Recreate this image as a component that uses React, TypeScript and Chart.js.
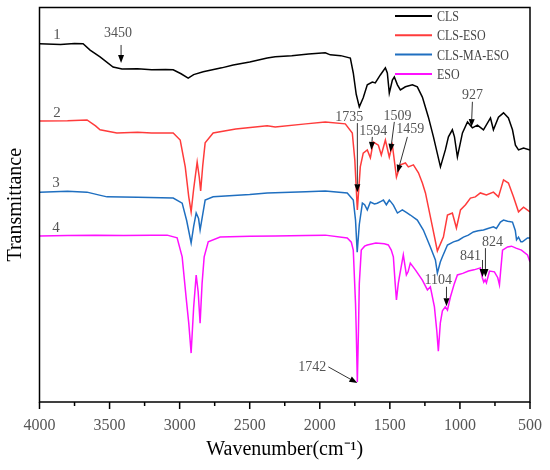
import React, { useEffect, useRef } from 'react';
import { Chart, registerables } from 'chart.js';

Chart.register(...registerables);

// Wavenumber (cm-1), transmittance (a.u., offset curves)
const clsPoints: [number, number][] = [
  [4000, 90.8], [3850, 90.6], [3750, 90.9], [3689, 90.8], [3639, 89.2], [3568, 87.5], [3475, 84.9], [3411, 84.4],
  [3300, 84.5], [3200, 84.2], [3100, 84.3], [3046, 84.2], [2990, 83.2], [2939, 82.1], [2900, 83.0], [2832, 83.7],
  [2700, 84.7], [2618, 85.4], [2500, 86.2], [2375, 87.2], [2318, 87.5], [2200, 87.8], [2080, 88.2], [1961, 88.5],
  [1925, 88.0], [1850, 87.8], [1782, 87.2], [1761, 83.4], [1740, 78.0], [1718, 74.8], [1690, 77.1], [1661, 80.4],
  [1625, 81.1], [1604, 80.9], [1568, 82.9], [1532, 84.7], [1518, 83.4], [1504, 78.3], [1482, 81.6], [1468, 82.4],
  [1446, 80.4], [1425, 79.1], [1389, 79.9], [1339, 80.4], [1304, 79.9], [1268, 77.3], [1225, 72.2], [1189, 67.2],
  [1139, 59.6], [1104, 63.9], [1082, 67.2], [1054, 69.0], [1039, 67.2], [1018, 62.1], [982, 68.2], [946, 71.0],
  [911, 69.5], [875, 70.2], [832, 69.0], [782, 72.0], [761, 69.0], [725, 72.2], [689, 73.3], [654, 72.0],
  [625, 69.0], [604, 65.1], [582, 63.9], [546, 64.4], [500, 63.9],
];

const clsEsoPoints: [number, number][] = [
  [4000, 71.2], [3800, 71.3], [3661, 71.5], [3600, 70.0], [3568, 69.0], [3448, 68.2], [3300, 68.4], [3200, 68.2],
  [3046, 68.2], [2996, 66.4], [2960, 59.6], [2935, 52.0], [2918, 48.2], [2900, 54.0], [2875, 60.8], [2860, 57.0],
  [2850, 53.5], [2835, 60.0], [2818, 65.7], [2761, 68.2], [2600, 69.2], [2375, 70.0], [2318, 69.7], [2100, 70.5],
  [1961, 71.0], [1818, 70.5], [1768, 68.2], [1750, 61.3], [1732, 48.7], [1711, 59.6], [1690, 63.1], [1661, 63.9],
  [1639, 61.9], [1618, 65.9], [1582, 65.1], [1561, 62.6], [1532, 66.4], [1504, 62.1], [1482, 65.1], [1453, 57.0],
  [1425, 60.1], [1389, 60.6], [1368, 59.6], [1332, 60.1], [1296, 58.1], [1268, 55.5], [1246, 53.0], [1196, 44.4],
  [1161, 38.3], [1118, 41.8], [1089, 47.4], [1054, 47.9], [1025, 44.1], [996, 48.7], [960, 50.0], [925, 51.7],
  [890, 52.0], [854, 53.0], [811, 52.5], [761, 53.2], [725, 52.0], [689, 56.3], [654, 55.5], [618, 52.0],
  [582, 48.2], [546, 49.4], [500, 48.2],
];

const clsMaEsoPoints: [number, number][] = [
  [4000, 53.2], [3800, 53.4], [3661, 53.2], [3580, 52.5], [3518, 52.0], [3300, 51.9], [3046, 51.7], [2982, 50.4],
  [2950, 46.0], [2918, 40.3], [2900, 44.5], [2882, 47.9], [2865, 46.5], [2854, 43.6], [2838, 47.0], [2818, 51.2],
  [2761, 52.0], [2500, 52.6], [2375, 53.0], [2100, 53.3], [1961, 53.5], [1804, 53.0], [1761, 51.2], [1745, 46.1],
  [1733, 38.0], [1718, 45.0], [1696, 50.4], [1680, 50.0], [1661, 48.7], [1639, 50.7], [1610, 50.2], [1590, 50.4],
  [1560, 50.9], [1546, 51.2], [1525, 50.0], [1504, 51.2], [1490, 50.6], [1475, 49.9], [1446, 47.9], [1411, 48.7],
  [1380, 48.0], [1354, 47.4], [1304, 46.1], [1261, 43.6], [1211, 39.3], [1175, 36.0], [1161, 32.7], [1140, 35.5],
  [1125, 36.8], [1089, 39.8], [1046, 40.6], [1010, 41.0], [975, 41.8], [940, 42.3], [904, 43.1], [870, 43.4],
  [832, 43.6], [800, 44.0], [761, 44.4], [740, 44.0], [711, 45.6], [689, 46.1], [660, 45.8], [625, 45.6],
  [605, 43.5], [596, 41.1], [582, 41.8], [565, 40.6], [554, 40.6], [518, 41.6], [500, 41.6],
];

const esoPoints: [number, number][] = [
  [4000, 42.1], [3800, 42.2], [3600, 42.3], [3400, 42.2], [3200, 42.3], [3089, 42.3], [3018, 41.6], [2982, 36.8],
  [2954, 26.6], [2935, 20.0], [2918, 12.4], [2900, 24.0], [2882, 32.2], [2868, 28.0], [2854, 20.0], [2840, 30.0],
  [2825, 36.8], [2796, 40.6], [2711, 41.8], [2500, 42.0], [2318, 42.1], [2100, 42.2], [1961, 42.3], [1804, 41.6],
  [1775, 40.5], [1761, 38.5], [1745, 25.0], [1740, 18.3], [1732, 5.1], [1724, 18.3], [1718, 30.0], [1704, 38.5],
  [1680, 39.5], [1661, 39.8], [1600, 40.3], [1540, 40.1], [1511, 39.8], [1490, 38.5], [1475, 36.8], [1462, 30.0],
  [1453, 25.9], [1440, 30.0], [1432, 31.7], [1404, 37.3], [1382, 32.2], [1370, 33.0], [1354, 35.2], [1318, 33.5],
  [1268, 30.9], [1232, 28.4], [1211, 29.2], [1182, 24.1], [1165, 18.0], [1154, 12.9], [1140, 20.0], [1125, 23.1],
  [1104, 24.1], [1089, 23.3], [1068, 26.6], [1040, 30.0], [1018, 32.2], [980, 32.6], [939, 33.2], [900, 33.5],
  [854, 34.0], [840, 31.5], [830, 30.4], [820, 31.0], [811, 30.2], [789, 33.2], [754, 33.0], [730, 31.5],
  [718, 29.7], [710, 33.0], [696, 38.5], [660, 39.3], [632, 39.5], [600, 39.0], [561, 38.5], [518, 37.3], [500, 35.5],
];

const seriesNames = ['CLS', 'CLS-ESO', 'CLS-MA-ESO', 'ESO'];
const seriesColors = ['#000000', '#ff3b3b', '#1f6fc0', '#ff10ff'];
const seriesPoints = [clsPoints, clsEsoPoints, clsMaEsoPoints, esoPoints];

const xTicks = [500, 1000, 1500, 2000, 2500, 3000, 3500, 4000];
const xMinorTicks = [750, 1250, 1750, 2250, 2750, 3250, 3750];

// curve numbers: [text, wavenumber, transmittance]
const curveNumbers: [string, number, number][] = [
  ['1', 3875, 93.0], ['2', 3875, 73.3], ['3', 3882, 55.5], ['4', 3882, 44.1],
];

// peak labels: text, text position, arrow start, arrow end (wavenumber, transmittance)
const peakLabels: { text: string; at: [number, number]; from: [number, number]; to: [number, number] }[] = [
  { text: '3450', at: [3439, 93.5], from: [3418, 90.5], to: [3418, 85.9] },
  { text: '1735', at: [1789, 72.2], from: [1732, 70.7], to: [1732, 53.2] },
  { text: '1594', at: [1618, 68.7], from: [1625, 67.2], to: [1632, 63.9] },
  { text: '1509', at: [1446, 72.5], from: [1468, 71.0], to: [1496, 63.4] },
  { text: '1459', at: [1354, 69.0], from: [1375, 67.2], to: [1446, 58.1] },
  { text: '927', at: [911, 77.8], from: [911, 76.1], to: [918, 69.7] },
  { text: '1104', at: [1154, 30.9], from: [1096, 29.2], to: [1096, 24.3] },
  { text: '824', at: [768, 40.6], from: [818, 39.0], to: [818, 31.7] },
  { text: '841', at: [925, 36.8], from: [839, 36.0], to: [839, 31.7] },
  { text: '1742', at: [2054, 8.9], from: [1939, 8.9], to: [1732, 4.8] },
];

const SERIF = '"Liberation Serif", "Times New Roman", serif';

const decorPlugin = {
  id: 'decor',
  afterDatasetsDraw(chart: any) {
    const { ctx, chartArea: a, scales } = chart;
    const xs = scales.x;
    const ys = scales.y;
    ctx.save();
    // frame
    ctx.strokeStyle = '#000';
    ctx.lineWidth = 1.5;
    ctx.strokeRect(a.left, a.top, a.right - a.left, a.bottom - a.top);
    // ticks (outward)
    ctx.beginPath();
    xTicks.forEach((v) => {
      const px = xs.getPixelForValue(v);
      ctx.moveTo(px, a.bottom);
      ctx.lineTo(px, a.bottom + 7);
    });
    xMinorTicks.forEach((v) => {
      const px = xs.getPixelForValue(v);
      ctx.moveTo(px, a.bottom);
      ctx.lineTo(px, a.bottom + 4);
    });
    ctx.stroke();

    // curve numbers
    ctx.fillStyle = '#555';
    ctx.font = `15px ${SERIF}`;
    ctx.textAlign = 'center';
    ctx.textBaseline = 'middle';
    curveNumbers.forEach(([t, w, v]) => {
      ctx.fillText(t, xs.getPixelForValue(w), ys.getPixelForValue(v));
    });

    // peak labels with arrows
    ctx.font = `14px ${SERIF}`;
    peakLabels.forEach((p) => {
      ctx.fillStyle = '#555';
      ctx.fillText(p.text, xs.getPixelForValue(p.at[0]), ys.getPixelForValue(p.at[1]));
      const x1 = xs.getPixelForValue(p.from[0]);
      const y1 = ys.getPixelForValue(p.from[1]);
      const x2 = xs.getPixelForValue(p.to[0]);
      const y2 = ys.getPixelForValue(p.to[1]);
      const ang = Math.atan2(y2 - y1, x2 - x1);
      const hl = 8;
      const hw = 3;
      ctx.strokeStyle = '#333';
      ctx.lineWidth = 1;
      ctx.beginPath();
      ctx.moveTo(x1, y1);
      ctx.lineTo(x2 - Math.cos(ang) * hl, y2 - Math.sin(ang) * hl);
      ctx.stroke();
      ctx.fillStyle = '#000';
      ctx.beginPath();
      ctx.moveTo(x2, y2);
      ctx.lineTo(x2 - Math.cos(ang) * hl - Math.sin(ang) * hw, y2 - Math.sin(ang) * hl + Math.cos(ang) * hw);
      ctx.lineTo(x2 - Math.cos(ang) * hl + Math.sin(ang) * hw, y2 - Math.sin(ang) * hl - Math.cos(ang) * hw);
      ctx.closePath();
      ctx.fill();
    });

    // legend (narrow serif, like the original figure)
    ctx.font = `15px ${SERIF}`;
    ctx.textAlign = 'left';
    chart.data.datasets.forEach((ds: any, i: number) => {
      const y = a.top + 8.5 + i * 19.3;
      ctx.strokeStyle = ds.borderColor;
      ctx.lineWidth = 2;
      ctx.beginPath();
      ctx.moveTo(a.right - 135, y);
      ctx.lineTo(a.right - 98, y);
      ctx.stroke();
      ctx.fillStyle = '#444';
      ctx.save();
      ctx.translate(a.right - 93, y + 1);
      ctx.scale(0.8, 1);
      ctx.fillText(ds.label, 0, 0);
      ctx.restore();
    });
    ctx.restore();
  },
};

export default function App() {
  const ref = useRef<HTMLCanvasElement>(null);
  useEffect(() => {
    if (!ref.current) return;
    const chart = new Chart(ref.current, {
      type: 'line',
      data: {
        datasets: seriesPoints.map((pts, i) => ({
          label: seriesNames[i],
          data: pts.map(([x, y]) => ({ x, y })),
          borderColor: seriesColors[i],
          backgroundColor: seriesColors[i],
          borderWidth: 1.5,
          pointRadius: 0,
          tension: 0,
          fill: false,
        })),
      },
      options: {
        animation: false,
        responsive: false,
        events: [],
        layout: { padding: { top: 7.5, right: 20, left: 0, bottom: 0 } },
        plugins: { legend: { display: false }, tooltip: { enabled: false } },
        scales: {
          x: {
            type: 'linear',
            reverse: true,
            min: 500,
            max: 4000,
            afterFit: (s: any) => {
              s.height = 68;
              s.paddingLeft = 0;
              s.paddingRight = 0;
            },
            grid: { display: false, drawTicks: false },
            border: { display: false },
            ticks: {
              stepSize: 500,
              padding: 14,
              autoSkip: false,
              maxRotation: 0,
              color: '#555',
              font: { family: SERIF, size: 16 },
              callback: (v: any) => String(v),
            },
            title: {
              display: true,
              text: 'Wavenumber(cm⁻¹)',
              color: '#000',
              font: { family: SERIF, size: 20 },
              padding: { top: 0, bottom: 8 },
            },
          },
          y: {
            min: 0,
            max: 100,
            afterFit: (s: any) => { s.width = 39.5; },
            ticks: { display: false },
            grid: { display: false, drawTicks: false },
            border: { display: false },
            title: {
              display: true,
              text: 'Transmittance',
              color: '#000',
              font: { family: SERIF, size: 20 },
              padding: { top: 4, bottom: 0 },
            },
          },
        },
      },
      plugins: [decorPlugin],
    } as any);
    return () => chart.destroy();
  }, []);
  return (
    <div style={{ position: 'absolute', left: 0, top: 0, width: 550, height: 470, background: '#fff' }}>
      <canvas ref={ref} width={550} height={470} />
    </div>
  );
}
